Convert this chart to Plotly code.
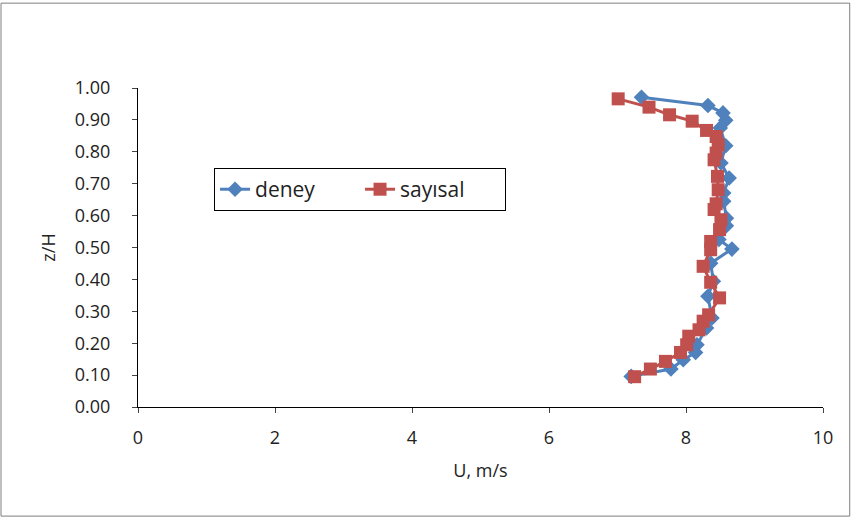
import plotly.graph_objects as go

deney_u = [7.35, 8.32, 8.54, 8.58, 8.50, 8.58, 8.51, 8.63, 8.55, 8.55, 8.59, 8.59, 8.48, 8.67,
           8.36, 8.40, 8.32, 8.38, 8.30, 8.16, 8.14, 7.96, 7.78, 7.20]
deney_z = [0.971, 0.945, 0.922, 0.899, 0.875, 0.819, 0.765, 0.718, 0.671, 0.645, 0.592, 0.568, 0.525, 0.495,
           0.451, 0.394, 0.347, 0.279, 0.248, 0.195, 0.171, 0.148, 0.119, 0.096]

sayisal_u = [7.01, 7.46, 7.76, 8.09, 8.30, 8.44, 8.47, 8.44, 8.41, 8.46, 8.47, 8.44, 8.41, 8.51, 8.49,
             8.36, 8.36, 8.25, 8.36, 8.49, 8.33, 8.25, 8.19, 8.04, 8.01, 7.92, 7.70, 7.48, 7.25]
sayisal_z = [0.966, 0.940, 0.916, 0.896, 0.867, 0.848, 0.822, 0.796, 0.775, 0.723, 0.681, 0.637, 0.619, 0.587, 0.556,
             0.519, 0.493, 0.441, 0.391, 0.342, 0.289, 0.269, 0.242, 0.222, 0.195, 0.171, 0.143, 0.119, 0.095]

x_ticks = [0, 2, 4, 6, 8, 10]
y_ticks = [0.0, 0.1, 0.2, 0.3, 0.4, 0.5, 0.6, 0.7, 0.8, 0.9, 1.0]

FONT = "Open Sans, sans-serif"

fig = go.Figure()
fig.add_trace(go.Scatter(x=deney_u, y=deney_z, name="deney", mode="lines+markers",
                         line=dict(color="#4F81BD", width=3),
                         marker=dict(symbol="diamond", size=12, color="#4F81BD")))
fig.add_trace(go.Scatter(x=sayisal_u, y=sayisal_z, name="sayısal", mode="lines+markers",
                         line=dict(color="#C0504D", width=3),
                         marker=dict(symbol="square", size=13, color="#C0504D")))

fig.update_layout(
    width=853, height=518,
    margin=dict(l=138, r=30, t=88, b=111),
    paper_bgcolor="white", plot_bgcolor="white",
    font=dict(family=FONT, size=18, color="#222222"),
    showlegend=True,
    legend=dict(x=0.111, y=0.749, xanchor="left", yanchor="top", orientation="h",
                bordercolor="#000000", borderwidth=1, bgcolor="white",
                font=dict(family=FONT, size=21), tracegroupgap=0, entrywidth=100),
    xaxis=dict(range=[0, 10], tickvals=x_ticks, ticks="outside", ticklen=5,
               showline=True, linecolor="#000000", linewidth=1, showgrid=False, zeroline=False,
               title=dict(text="U, m/s", font=dict(size=18), standoff=16),
               tickfont=dict(size=18), ticklabelstandoff=9),
    yaxis=dict(range=[0, 1], tickvals=y_ticks, tickformat=".2f", ticks="outside", ticklen=5,
               showline=True, linecolor="#000000", linewidth=1, showgrid=False, zeroline=False,
               title=dict(text="z/H", font=dict(size=18), standoff=14),
               tickfont=dict(size=18), ticklabelstandoff=18),
    shapes=[dict(type="rect", xref="paper", yref="paper", x0=-0.2, x1=1.039, y0=-0.342, y1=1.266,
                 line=dict(color="#7F7F7F", width=1), fillcolor="rgba(0,0,0,0)", layer="below")],
)

fig.write_html("out.html", config={"displayModeBar": False},
               post_script="document.body.style.margin='0';document.body.style.padding='0';")
